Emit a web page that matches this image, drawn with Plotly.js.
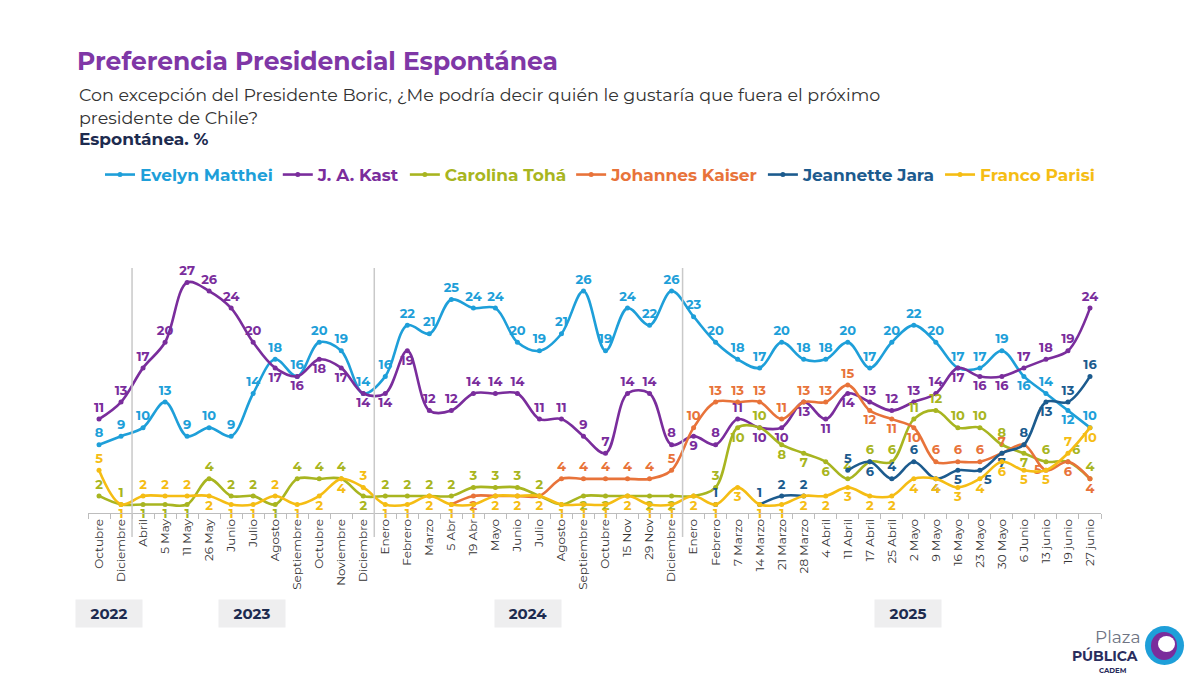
<!DOCTYPE html>
<html>
<head>
<meta charset="utf-8">
<script src="https://cdn.plot.ly/plotly-3.0.1.min.js"></script>
<style>
  html, body { margin: 0; padding: 0; background: #ffffff; }
  #chart { width: 1200px; height: 675px; }
</style>
</head>
<body>
<div id="chart"></div>
<script>
// Survey waves (Oct 2022 – Jun 2025)
const categories = [
  "Octubre", "Diciembre",
  "Abril", "5 May", "11 May", "26 May", "Junio", "Julio", "Agosto", "Septiembre", "Octubre ", "Noviembre", "Diciembre ",
  "Enero", "Febrero", "Marzo", "5 Abr", "19 Abr", "Mayo", "Junio ", "Julio ", "Agosto ", "Septiembre ", "Octubre  ", "15 Nov", "29 Nov", "Diciembre  ",
  "Enero ", "Febrero ", "7 Marzo", "14 Marzo", "21 Marzo", "28 Marzo", "4 Abril", "11 Abril", "17 Abril", "25 Abril",
  "2 Mayo", "9 Mayo", "16 Mayo", "23 Mayo", "30 Mayo", "6 Junio", "13 junio", "19 junio", "27 junio"
];
const tickLabels = categories.map(c => c.trim());

const years = ["2022", "2023", "2024", "2025"];

// Spontaneous mentions, %
const matthei = [8, 9, 10, 13, 9, 10, 9, 14, 18, 16, 20, 19, 14,
  16, 22, 21, 25, 24, 24, 20, 19, 21, 26, 19, 24, 22, 26,
  23, 20, 18, 17, 20, 18, 18, 20, 17, 20, 22, 20, 17, 17, 19, 16, 14, 12, 10];
const kast = [11, 13, 17, 20, 27, 26, 24, 20, 17, 16, 18, 17, 14,
  14, 19, 12, 12, 14, 14, 14, 11, 11, 9, 7, 14, 14, 8,
  9, 8, 11, 10, 10, 13, 11, 14, 13, 12, 13, 14, 17, 16, 16, 17, 18, 19, 24];
const toha = [2, 1, 1, 1, 1, 4, 2, 2, 1, 4, 4, 4, 2,
  2, 2, 2, 2, 3, 3, 3, 2, 1, 2, 2, 2, 2, 2,
  2, 3, 10, 10, 8, 7, 6, 4, 6, 6, 11, 12, 10, 10, 8, 7, 6, 6, 4];
const kaiser = [null, null, null, null, null, null, null, null, null, null, null, null, null,
  null, null, null, 1, 2, 2, 2, 2, 4, 4, 4, 4, 4, 5,
  10, 13, 13, 13, 11, 13, 13, 15, 12, 11, 10, 6, 6, 6, 7, 8, 5, 6, 4];
const jara = [null, null, null, null, null, null, null, null, null, null, null, null, null,
  null, null, null, null, null, null, null, null, null, null, null, null, null, null,
  null, 1, null, 1, 2, 2, null, 5, 6, 4, 6, 4, 5, 5, 7, 8, 13, 13, 16];
const parisi = [5, 1, 2, 2, 2, 2, 1, 1, 2, 1, 2, 4, 3,
  1, 1, 2, 1, 1, 2, 2, 2, 1, 1, 1, 2, 1, 1,
  2, 1, 3, 1, 1, 2, 2, 3, 2, 2, 4, 4, 3, 4, 6, 5, 5, 7, 10];

// Value-label placement per point:
// t = above, b = below, l = left, r = below right, R = above right, - = hidden
const placement = {
  matthei: "t".repeat(42) + "btbt",
  kast: "tttttttt" + "bbbbbbb" + "tttttttttttt" + "btt" + "bbbbb" + "tttt" + "bbb" + "tttt",
  toha: "ttbbbtttbtttb" + "tttttttt" + "-bb-bb-" + "tbtbbb" + "tttttttt" + "btRt",
  kaiser: "-".repeat(16) + "-b---" + "t".repeat(14) + "bbbtttt" + "-lbb",
  jara: "-".repeat(28) + "t-ttt-tbttbbrbtbtt",
  parisi: "tbtttbbbtbbbt" + "b".repeat(31) + "tb"
};
const posMap = {
  t: "top center", b: "bottom center", l: "middle left",
  r: "bottom right", R: "top right", "-": "top center"
};

const seriesDefs = [
  { key: "matthei", name: "Evelyn Matthei", values: matthei, color: "#1e9fd9" },
  { key: "kast", name: "J. A. Kast", values: kast, color: "#7a2d9c" },
  { key: "toha", name: "Carolina Tohá", values: toha, color: "#a8b520" },
  { key: "kaiser", name: "Johannes Kaiser", values: kaiser, color: "#e8733a" },
  { key: "jara", name: "Jeannette Jara", values: jara, color: "#1c5b8e" },
  { key: "parisi", name: "Franco Parisi", values: parisi, color: "#f5bd14" }
];

const FONT = "Montserrat, 'Open Sans', 'Noto Sans', sans-serif";

const traces = seriesDefs.map(s => {
  const pl = placement[s.key];
  return {
    type: "scatter",
    mode: "lines+markers+text",
    name: '<b><span style="color:' + s.color + '">' + s.name + '</span></b>',
    x: categories,
    y: s.values,
    text: s.values.map((v, i) => (v === null || pl[i] === "-") ? "" : "<b>" + v + "</b>"),
    textposition: s.values.map((v, i) => posMap[pl[i]]),
    textfont: { family: FONT, size: 13, color: s.color },
    line: { color: s.color, width: 2.6, shape: "spline", smoothing: 1 },
    marker: { color: s.color, size: 5 },
    connectgaps: false,
    cliponaxis: false,
    hoverinfo: "x+y+name"
  };
});

// Plot box in pixels
const M = { l: 88, r: 99, t: 268, b: 162 };
const W = 1200, H = 675;
const PW = W - M.l - M.r, PH = H - M.t - M.b;
const PX = px => (px - M.l) / PW;
const PY = py => (H - M.b - py) / PH;

// Year separators between waves
const separators = [1.5, 12.5, 26.5];
const shapes = separators.map(x => ({
  type: "line", xref: "x", yref: "paper",
  x0: x, x1: x, y0: PY(537), y1: 1,
  line: { color: "#c9c9c9", width: 1.5 }
}));

// Logo mark
shapes.push({
  type: "circle", xref: "paper", yref: "paper",
  x0: PX(1145), x1: PX(1184), y0: PY(665), y1: PY(626),
  fillcolor: "#1e9fd9", line: { width: 0 }
});
shapes.push({
  type: "circle", xref: "paper", yref: "paper",
  x0: PX(1151), x1: PX(1177), y0: PY(660), y1: PY(632),
  fillcolor: "#7a2d9c", line: { width: 0 }
});
shapes.push({
  type: "circle", xref: "paper", yref: "paper",
  x0: PX(1158), x1: PX(1175), y0: PY(652), y1: PY(636),
  fillcolor: "#ffffff", line: { width: 0 }
});

const yearCenters = [109, 252, 528, 908];
const annotations = years.map((yr, i) => ({
  xref: "paper", yref: "paper",
  x: PX(yearCenters[i]), y: PY(613),
  text: "<b>" + yr + "</b>",
  showarrow: false,
  font: { family: FONT, size: 15, color: "#1d2b4f" },
  bgcolor: "#eeeeef",
  width: 60, height: 21, borderpad: 3,
  xanchor: "center", yanchor: "middle"
}));

annotations.push(
  {
    xref: "paper", yref: "paper", x: PX(77), y: PY(106),
    xanchor: "left", yanchor: "middle", align: "left", showarrow: false,
    text: "Con excepción del Presidente Boric, ¿Me podría decir quién le gustaría que fuera el próximo<br>presidente de Chile?",
    font: { family: FONT, size: 17.5, color: "#333333" }
  },
  {
    xref: "paper", yref: "paper", x: PX(77), y: PY(139),
    xanchor: "left", yanchor: "middle", showarrow: false,
    text: "<b>Espontánea. %</b>",
    font: { family: FONT, size: 17, color: "#1d2b4f" }
  },
  {
    xref: "paper", yref: "paper", x: PX(1143), y: PY(637),
    xanchor: "right", yanchor: "middle", showarrow: false,
    text: "Plaza",
    font: { family: FONT, size: 17, color: "#6f7483" }
  },
  {
    xref: "paper", yref: "paper", x: PX(1140), y: PY(656),
    xanchor: "right", yanchor: "middle", showarrow: false,
    text: "<b>PÚBLICA</b>",
    font: { family: FONT, size: 14, color: "#2a2d5e" }
  },
  {
    xref: "paper", yref: "paper", x: PX(1129), y: PY(670),
    xanchor: "right", yanchor: "middle", showarrow: false,
    text: "<b>CADEM</b>",
    font: { family: FONT, size: 7, color: "#2a2d5e" }
  }
);

const layout = {
  width: W, height: H,
  margin: M,
  paper_bgcolor: "#ffffff",
  plot_bgcolor: "#ffffff",
  font: { family: FONT, color: "#333333" },
  title: {
    text: "<b>Preferencia Presidencial Espontánea</b>",
    xref: "container", yref: "container",
    x: 77 / W, y: 1 - 61 / H,
    xanchor: "left", yanchor: "middle",
    font: { family: FONT, size: 25, color: "#7f37a6" }
  },
  showlegend: true,
  legend: {
    orientation: "h",
    xref: "paper", yref: "paper",
    x: PX(100), y: PY(175),
    xanchor: "left", yanchor: "middle",
    font: { family: FONT, size: 17 },
    itemwidth: 30,
    tracegroupgap: 0,
    bgcolor: "rgba(0,0,0,0)"
  },
  xaxis: {
    type: "category",
    tickvals: categories,
    ticktext: tickLabels,
    range: [-0.5, categories.length - 0.5],
    tickangle: -90,
    tickfont: { family: FONT, size: 12, color: "#333333" },
    showgrid: false,
    zeroline: false,
    showline: true,
    linecolor: "#bdbdbd",
    linewidth: 1.2,
    ticks: "outside",
    tickson: "boundaries",
    ticklen: 5,
    tickcolor: "#bdbdbd",
    fixedrange: true
  },
  yaxis: {
    visible: false,
    range: [0, 28.7],
    showgrid: false,
    zeroline: false,
    fixedrange: true
  },
  shapes: shapes,
  annotations: annotations
};

Plotly.newPlot("chart", traces, layout, { displayModeBar: false, responsive: false });
</script>
</body>
</html>
